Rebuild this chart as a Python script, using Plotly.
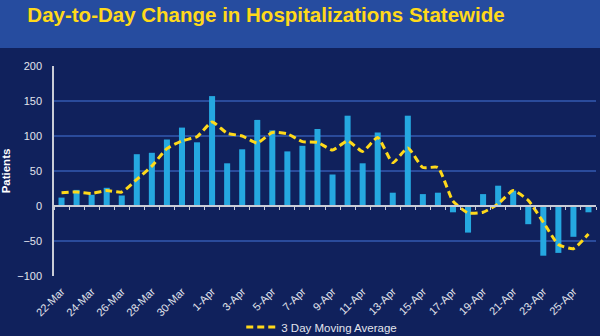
import plotly.graph_objects as go

dates = ["22-Mar", "23-Mar", "24-Mar", "25-Mar", "26-Mar", "27-Mar", "28-Mar", "29-Mar", "30-Mar", "31-Mar",
         "1-Apr", "2-Apr", "3-Apr", "4-Apr", "5-Apr", "6-Apr", "7-Apr", "8-Apr", "9-Apr", "10-Apr",
         "11-Apr", "12-Apr", "13-Apr", "14-Apr", "15-Apr", "16-Apr", "17-Apr", "18-Apr", "19-Apr", "20-Apr",
         "21-Apr", "22-Apr", "23-Apr", "24-Apr", "25-Apr", "26-Apr"]
daily_change = [12, 23, 16, 26, 15, 74, 76, 95, 112, 91,
                157, 61, 81, 123, 108, 78, 86, 110, 45, 129,
                61, 105, 19, 129, 17, 19, -9, -38, 17, 29,
                22, -26, -71, -67, -44, -9]
moving_avg = [19, 20, 18, 22, 20, 38, 57, 82, 93, 99,
              120, 104, 100, 90, 105, 103, 92, 91, 80, 93,
              78, 98, 62, 83, 55, 55, 7, -10, -9, 3,
              22, 8, -23, -55, -61, -40]
label_dates = dates[::2]
y_ticks = [-100, -50, 0, 50, 100, 150, 200]

NAVY = "#10215C"
BAND = "#264C9F"
GRID = "#2A4B9B"
AXIS = "#C9CCD6"
TXT = "#E2E4EC"
FONT = "Liberation Sans, Arial, sans-serif"

fig = go.Figure()
fig.add_trace(go.Bar(x=dates, y=daily_change, marker=dict(color="#25A8E0", line=dict(width=0)),
                     showlegend=False, name="Change"))
fig.add_trace(go.Scatter(x=dates, y=moving_avg, mode="lines", name="3 Day Moving Average",
                         line=dict(color="#FFD91A", width=3, dash="7px,4px", shape="spline", smoothing=0.5)))
fig.add_trace(go.Scatter(x=dates, y=[None] * len(dates), xaxis="x2", mode="lines",
                         showlegend=False, hoverinfo="skip"))

fig.update_layout(
    width=600, height=336,
    template="none",
    paper_bgcolor=NAVY, plot_bgcolor=NAVY,
    margin=dict(l=54, r=4, t=66, b=60, autoexpand=False),
    bargap=0.6,
    title=dict(text="Day-to-Day Change in Hospitalizations Statewide",
               font=dict(family=FONT, size=20.5, color="#FFD91A", weight="bold"),
               xref="container", x=266 / 600, xanchor="center",
               yref="container", y=1 - 15 / 336, yanchor="middle"),
    xaxis=dict(type="category", range=[-0.5, len(dates) - 0.5], tickmode="array",
               tickvals=label_dates, ticktext=label_dates, tickangle=-45,
               tickfont=dict(family=FONT, size=11, color=TXT), ticks="", showline=False,
               showgrid=False, zeroline=False, automargin=False, ticklabelstandoff=6),
    xaxis2=dict(type="category", overlaying="x", anchor="free", position=1 / 3,
                range=[-0.5, len(dates) - 0.5], tickson="boundaries", dtick=1,
                ticks="outside", ticklen=3, tickcolor=AXIS, tickwidth=1,
                showticklabels=False, showline=True, linecolor=AXIS, linewidth=1.5,
                showgrid=False, zeroline=False, automargin=False),
    yaxis=dict(range=[-100, 200], tickmode="array", tickvals=y_ticks,
               tickfont=dict(family=FONT, size=11, color=TXT), ticks="",
               showgrid=True, gridcolor=GRID, gridwidth=2,
               zeroline=True, zerolinecolor=AXIS, zerolinewidth=1.5,
               showline=True, linecolor=AXIS, linewidth=1.5,
               title=dict(text="Patients", font=dict(family=FONT, size=11.5, color="#FFFFFF", weight="bold"),
                          standoff=6),
               automargin=False, ticklabelstandoff=8),
    legend=dict(orientation="h", x=0.494, xanchor="center", y=-0.243, yanchor="middle",
                font=dict(family=FONT, size=11.5, color=TXT), bgcolor="rgba(0,0,0,0)",
                itemwidth=30),
    shapes=[dict(type="rect", xref="paper", yref="paper", x0=-0.2, x1=1.2,
                 y0=1 + (66 - 48) / 210, y1=1.5, fillcolor=BAND, line=dict(width=0), layer="below")],
)

fig.write_html("out.html", config={"displayModeBar": False},
               post_script="document.body.style.margin='0';document.body.style.overflow='hidden';")
